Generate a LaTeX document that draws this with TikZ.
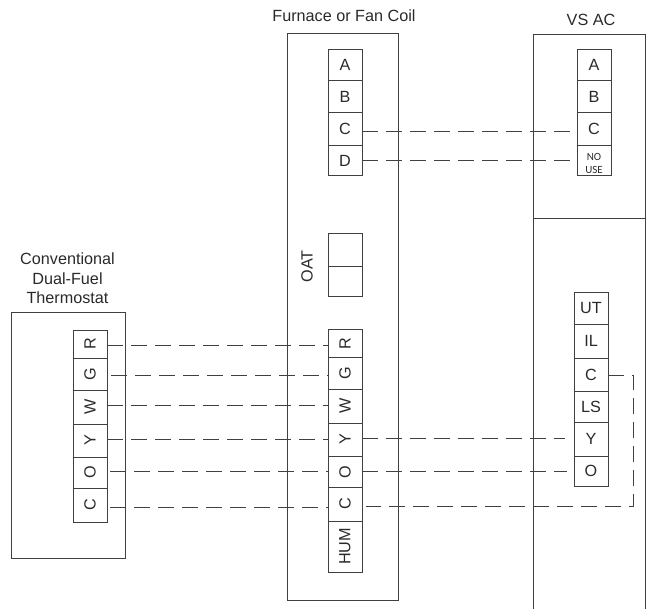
\documentclass[tikz,border=0pt]{standalone}
\usepackage{fontspec}
\setmainfont{Liberation Sans}
\newfontfamily\smallfont{Carlito}
\definecolor{linegray}{HTML}{404040}
\definecolor{textgray}{HTML}{2A2A2A}
\tikzset{
  unitbox/.style = {draw=linegray, line width=0.9pt, inner sep=0pt, outer sep=0pt,
    minimum width=#1},
  terminal/.style = {draw=linegray, line width=0.9pt, inner sep=0pt, outer sep=0pt,
    text=textgray, font=\fontsize{16.2}{16.2}\selectfont, align=center,
    minimum width=34pt},
  smalltext/.style = {inner sep=0pt, text=textgray, align=center,
    font=\smallfont\fontsize{11}{13}\selectfont},
  title/.style = {text=textgray, font=\fontsize{16.2}{19.5}\selectfont, align=center,
    inner sep=0pt},
  wire/.style = {draw=linegray, line width=0.9pt, dash pattern=on 16pt off 8pt}
}

\begin{document}
\begin{tikzpicture}[x=1pt,y=-1pt]
    \useasboundingbox (0,0) rectangle (647,609);
    % cabinets
    \node [unitbox=111pt, minimum height=567pt] (furnace) at (342.5,316.5) {};
    \node [unitbox=112pt, minimum height=184pt] (acTop) at (589,126) {};
    \node [unitbox=114pt, minimum height=246pt] (stat) at (68,435) {};
    \coordinate (acEndL) at (533,609);
    \coordinate (acEndR) at (645,609);
    \draw [draw=linegray, line width=0.9pt] (acTop.south west) -- (acEndL);
    \draw [draw=linegray, line width=0.9pt] (acTop.south east) -- (acEndR);
    % upright terminals
    \foreach \name/\txt/\x/\y/\h in {fA/A/345/65/31, fB/B/345/96.5/32, fC/C/345/129/33, fD/D/345/160.5/30,
        aA/A/594/65/31, aB/B/594/96.5/32, aC/C/594/129/33,
        uUT/UT/591/308/32, uIL/IL/591/341/34, uC/C/591/374.5/33, uLS/LS/591/406.5/31,
        uY/Y/591/439/34, uO/O/591/471/30}
      \node [terminal, minimum height=\h pt] (\name) at (\x,\y) {\txt};
    \node [terminal, minimum height=30pt, label={[smalltext, yshift=-2.5pt]center:NO\\USE}] (aN) at (594,160.5) {};
    % blank OAT block
    \node [terminal, minimum height=33pt] (oatA) at (345,249.5) {};
    \node [terminal, minimum height=30pt] (oatB) at (345,281) {};
    % terminals on their side
    \foreach \name/\txt/\x/\y/\h in {tR/R/90/344/28, tG/G/90/374/32, tW/W/90/407/34, tY/Y/90/440.5/33,
        tO/O/90/472.5/31, tC/C/90/505/34,
        lR/R/345/343.5/28, lG/G/345/373.5/32, lW/W/345/406/34, lY/Y/345/439.5/33,
        lO/O/345/472/31, lC/C/345/504/34, lHUM/HUM/345/546.5/51}
      \node [terminal, minimum height=\h pt] (\name) at (\x,\y) {\rotatebox{90}{\txt}};
    % wires
    \foreach \from/\to/\y/\off in {fC/aC/131/0, fD/aN/160.5/0,
        tR/lR/345.5/0, tG/lG/375/4, tW/lW/405.5/0, tY/lY/439.5/0, tO/lO/471.5/3, tC/lC/507/3}
      \draw [wire, shorten <=\off pt] (\from.east |- 0,\y) -- (\to.west |- 0,\y);
    \draw [wire, shorten >=9pt] (lY.east |- 0,438.5) -- (uY.west |- 0,438.5);
    \draw [wire, shorten >=7pt] (lO.east |- 0,471) -- (uO.west |- 0,471);
    \coordinate (cTurnA) at (633,375);
    \coordinate (cTurnB) at (633,506);
    \draw [wire, shorten >=4pt] (uC.east |- cTurnA) -- (cTurnA) -- (cTurnB) -- (lC.east |- cTurnB);
    % labels
    \node [title] (furnaceName) at (344,16) {Furnace or Fan Coil};
    \node [title] (acName) at (591,20) {VS AC};
    \node [title] (statName) at (67.5,278.5) {Conventional\\Dual-Fuel\\Thermostat};
    \node [title] (oatName) at (307,266.5) {\rotatebox{90}{OAT}};
\end{tikzpicture}
\end{document}
